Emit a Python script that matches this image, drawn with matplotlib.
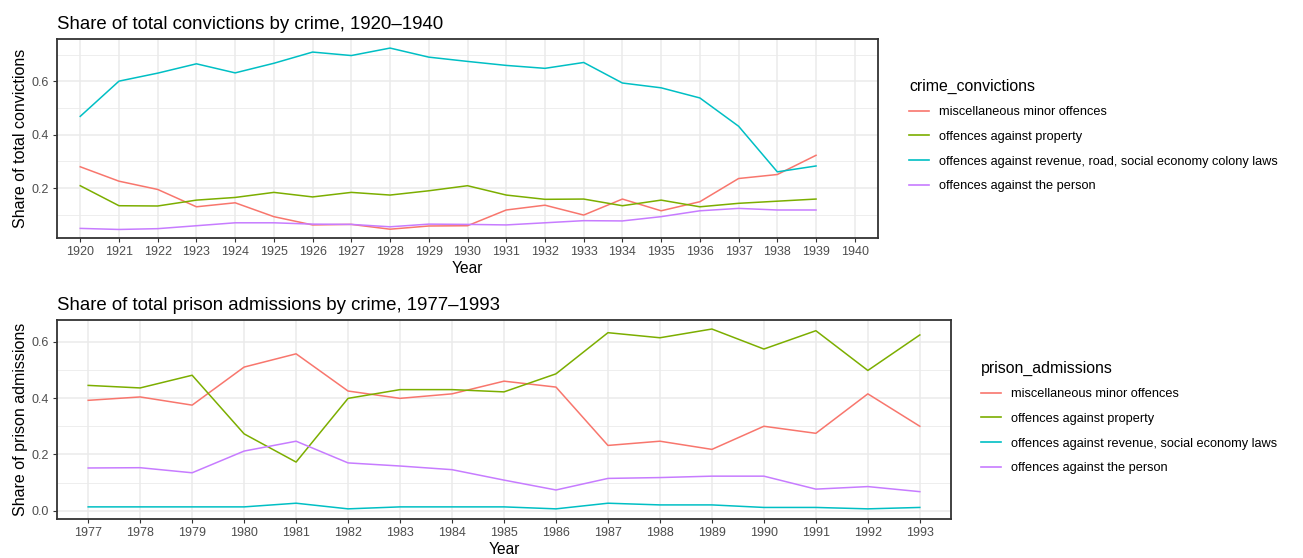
import matplotlib
matplotlib.use("Agg")
import matplotlib.pyplot as plt
from matplotlib.lines import Line2D

plt.rcParams['font.family'] = ['Liberation Sans', 'DejaVu Sans']

# ---- data: convictions 1920-1939 ----
conv_years = list(range(1920, 1940))
conv_levels = list(range(1920, 1941))
conv_misc = [0.280, 0.226, 0.195, 0.130, 0.145, 0.093, 0.062, 0.064, 0.046, 0.058,
             0.059, 0.118, 0.136, 0.099, 0.159, 0.115, 0.149, 0.236, 0.251, 0.323]
conv_property = [0.209, 0.134, 0.133, 0.155, 0.165, 0.184, 0.167, 0.184, 0.174, 0.190,
                 0.209, 0.174, 0.158, 0.159, 0.134, 0.155, 0.130, 0.143, 0.151, 0.159]
conv_revenue = [0.469, 0.601, 0.631, 0.666, 0.632, 0.668, 0.710, 0.697, 0.725, 0.691,
                0.675, 0.660, 0.649, 0.671, 0.594, 0.576, 0.538, 0.432, 0.261, 0.283]
conv_person = [0.049, 0.045, 0.048, 0.059, 0.070, 0.070, 0.065, 0.064, 0.055, 0.065,
               0.064, 0.062, 0.070, 0.078, 0.077, 0.093, 0.115, 0.124, 0.118, 0.118]
conv_labels = ["miscellaneous minor offences", "offences against property",
               "offences against revenue, road, social economy colony laws",
               "offences against the person"]

# ---- data: prison admissions 1977-1993 ----
pris_years = list(range(1977, 1994))
pris_misc = [0.392, 0.404, 0.375, 0.510, 0.557, 0.425, 0.399, 0.415, 0.460, 0.439,
             0.232, 0.247, 0.218, 0.300, 0.275, 0.415, 0.300]
pris_property = [0.445, 0.436, 0.481, 0.273, 0.173, 0.399, 0.430, 0.430, 0.422, 0.486,
                 0.632, 0.614, 0.645, 0.574, 0.639, 0.498, 0.624]
pris_revenue = [0.014, 0.014, 0.014, 0.014, 0.027, 0.007, 0.014, 0.014, 0.014, 0.007,
                0.027, 0.021, 0.021, 0.012, 0.012, 0.007, 0.012]
pris_person = [0.152, 0.153, 0.135, 0.212, 0.247, 0.170, 0.159, 0.146, 0.109, 0.074,
               0.115, 0.118, 0.123, 0.123, 0.077, 0.086, 0.068]
pris_labels = ["miscellaneous minor offences", "offences against property",
               "offences against revenue, social economy laws",
               "offences against the person"]

colors = ["#F8766D", "#7CAE00", "#00BFC4", "#C77CFF"]

W, H = 1303, 558
fig = plt.figure(figsize=(W / 100, H / 100), dpi=100)


def px_axes(l, t, r, b):
    return fig.add_axes([l / W, 1 - b / H, (r - l) / W, (b - t) / H])


def style(ax, xticks, yticks, yminor, ylim, xlim, ylabel, title):
    ax.set_facecolor("white")
    ax.set_xlim(*xlim)
    ax.set_ylim(*ylim)
    ax.set_xticks(xticks)
    ax.set_xticklabels([str(x) for x in xticks])
    ax.set_yticks(yticks)
    ax.set_yticklabels([f"{y:.1f}" for y in yticks])
    ax.set_yticks(yminor, minor=True)
    ax.grid(True, which="major", color="#EBEBEB", lw=1.1, zorder=0)
    ax.grid(True, which="minor", axis="y", color="#EBEBEB", lw=0.6, zorder=0)
    ax.set_axisbelow(True)
    for s in ax.spines.values():
        s.set_color("#333333")
        s.set_linewidth(1.3)
    ax.tick_params(axis="both", which="major", labelsize=9.0, colors="#333333",
                   labelcolor="#4D4D4D", length=3, width=0.8, pad=2.5)
    ax.tick_params(axis="y", which="minor", length=0)
    ax.set_xlabel("Year", fontsize=11.2, color="black", labelpad=2.5)
    ax.set_ylabel(ylabel, fontsize=11.5, color="black", labelpad=3)
    ax.set_title(title, loc="left", fontsize=13.4, color="black", pad=7.5)


# top panel
ax1 = px_axes(57, 39, 878, 238)
for vals, c in zip([conv_misc, conv_property, conv_revenue, conv_person], colors):
    ax1.plot(conv_years, vals, color=c, lw=1.1, zorder=3)
style(ax1, conv_levels, [0.2, 0.4, 0.6], [0.1, 0.3, 0.5, 0.7], (0.013, 0.759),
      (conv_levels[0] - 0.6, conv_levels[-1] + 0.6),
      "Share of total convictions", "Share of total convictions by crime, 1920\u20131940")

# bottom panel
ax2 = px_axes(57, 320, 951, 519)
for vals, c in zip([pris_misc, pris_property, pris_revenue, pris_person], colors):
    ax2.plot(pris_years, vals, color=c, lw=1.1, zorder=3)
style(ax2, pris_years, [0.0, 0.2, 0.4, 0.6], [0.1, 0.3, 0.5], (-0.029, 0.677),
      (pris_years[0] - 0.6, pris_years[-1] + 0.6),
      "Share of prison admissions", "Share of total prison admissions by crime, 1977\u20131993")


def legend(labels, title, x, y):
    handles = [Line2D([0], [0], color=c, lw=1.2) for c in colors]
    leg = fig.legend(handles, labels, title=title, loc="upper left",
                     bbox_to_anchor=(x / W, 1 - y / H), frameon=False,
                     fontsize=9.2, title_fontsize=11.4, handlelength=1.55,
                     handletextpad=0.8, labelspacing=1.0, borderpad=0,
                     alignment="left")
    leg._legend_box.sep = 9
    return leg


legend(conv_labels, "crime_convictions", 903, 72)
legend(pris_labels, "prison_admissions", 975, 354)

fig.savefig("out.png", dpi=100)
